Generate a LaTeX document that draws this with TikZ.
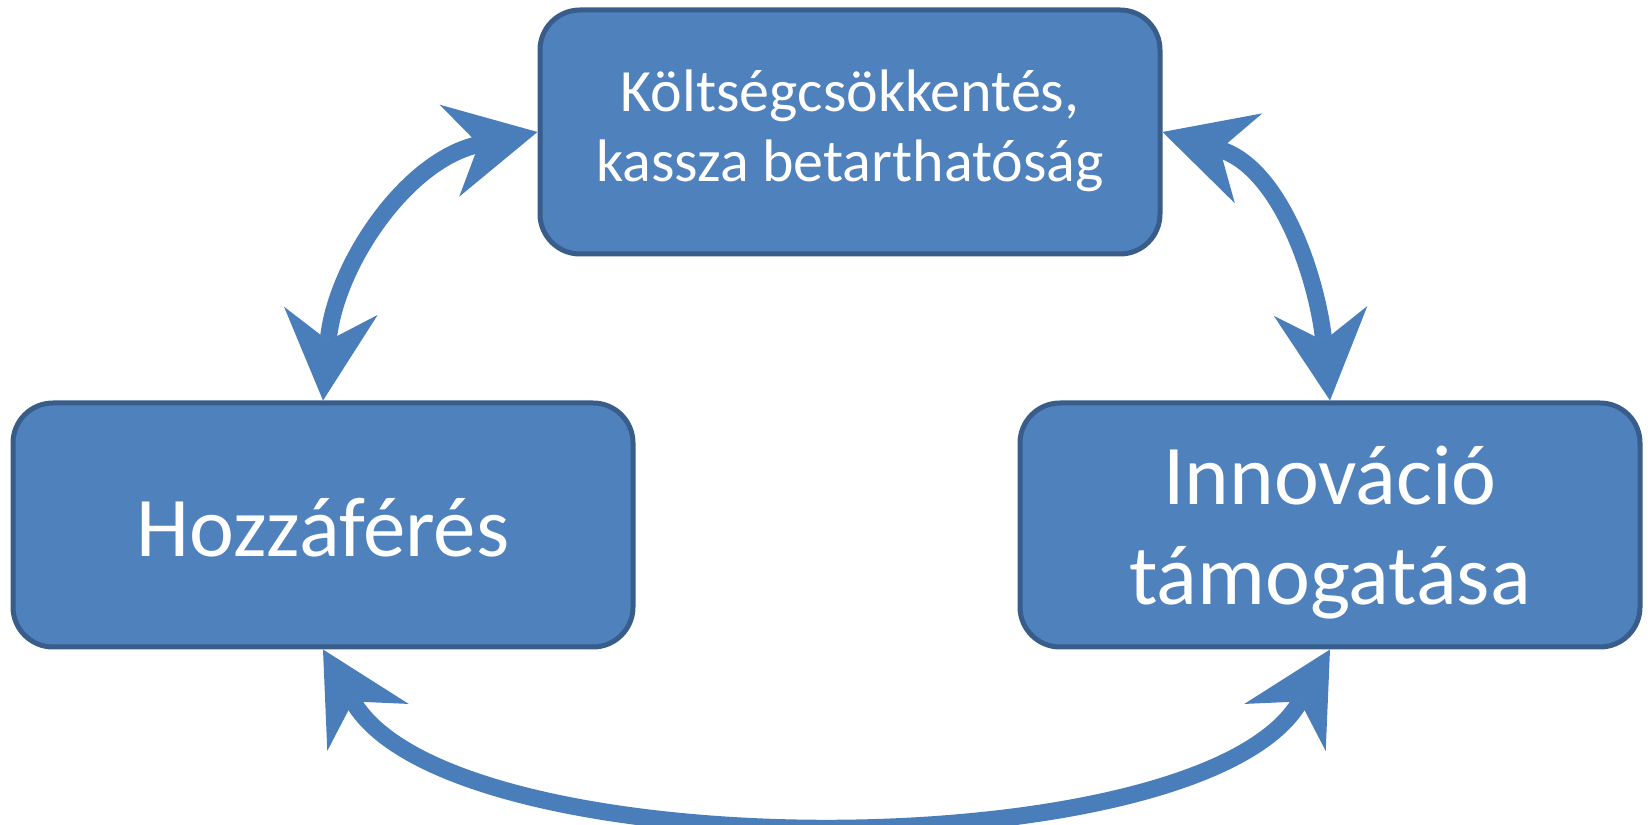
\documentclass[tikz,border=0pt]{standalone}
\usepackage{fontspec}
\setmainfont{Carlito}
\usetikzlibrary{arrows.meta}
\definecolor{boxfill}{HTML}{4F81BD}
\definecolor{boxline}{HTML}{385D8A}
\definecolor{arrowblue}{HTML}{4A7EBB}
\begin{document}
\begin{tikzpicture}[x=0.5pt,y=0.5pt,>={Stealth[length=45pt,width=47pt,inset=15pt,line width=0pt]}]
		\tikzstyle{every node}+=[inner sep=0pt]
		\tikzstyle{box}=[draw=boxline, fill=boxfill, line width=2.5pt, rounded corners=20pt, minimum width=310pt, minimum height=122pt, text=white, align=center, text depth=0pt]
		\tikzstyle{link}=[draw=arrowblue, line width=8.5pt, <->]
		\useasboundingbox (0,0) rectangle (1648,824);
		\node [box, font=\fontsize{30}{35}\selectfont, text height=50pt] (koltseg) at (850,692) {Költségcsökkentés,\\kassza betarthatóság};
		\node [box, font=\fontsize{42.5}{50}\selectfont, text height=32pt] (hozzaferes) at (323,299) {Hozzáférés};
		\node [box, font=\fontsize{42.5}{50}\selectfont, text height=80pt] (innovacio) at (1330,299) {Innováció\\támogatása};
		\draw [link] (hozzaferes.north) to[out=85,in=192] (koltseg.west);
		\draw [link] (koltseg.east) to[out=343,in=96] (innovacio.north);
		\draw [link] (hozzaferes.south) to[out=300,in=240,looseness=0.65] (innovacio.south);
	\end{tikzpicture}
\end{document}
